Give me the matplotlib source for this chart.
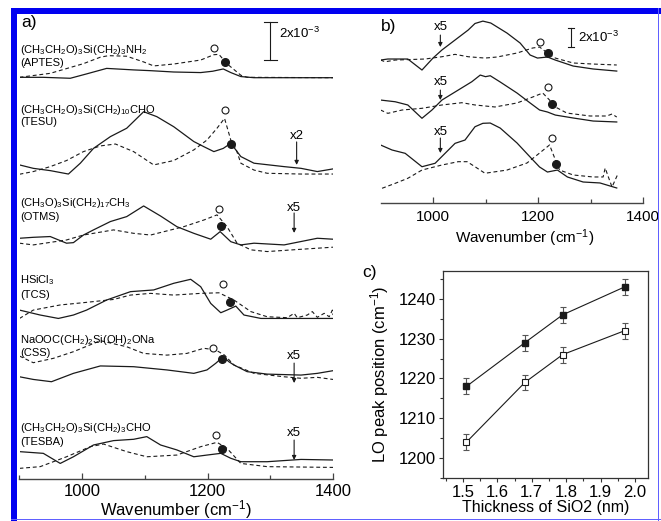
import matplotlib
matplotlib.use('Agg')
import matplotlib.pyplot as plt
from matplotlib.patches import Rectangle
from matplotlib.ticker import FixedLocator, MultipleLocator

plt.rcParams['font.family'] = ['Liberation Sans', 'DejaVu Sans']
plt.rcParams['mathtext.fontset'] = 'custom'
plt.rcParams['mathtext.rm'] = 'Liberation Sans'
plt.rcParams['mathtext.it'] = 'Liberation Sans:italic'
plt.rcParams['mathtext.bf'] = 'Liberation Sans:bold'

# ---------------- Panel a data (wavenumber, absorbance in 1e-3 with offsets) ----------------
aptes_solid_x = [900, 938, 981, 1007, 1039, 1082, 1109, 1146, 1189, 1208, 1225, 1237, 1253, 1274, 1400]
aptes_solid_y = [21.14, 21.14, 21.09, 21.32, 21.61, 21.53, 21.49, 21.42, 21.39, 21.46, 21.58, 21.39, 21.18, 21.12, 21.12]
aptes_dash_x = [900, 949, 1002, 1029, 1042, 1071, 1098, 1114, 1146, 1189, 1210, 1218, 1231, 1253, 1263, 1400]
aptes_dash_y = [21.14, 21.35, 21.86, 22.20, 22.28, 22.25, 21.95, 21.74, 21.84, 22.05, 22.33, 22.35, 21.85, 21.25, 21.14, 21.12]
aptes_open = (1210, 22.67)
aptes_fill = (1228, 21.95)

tesu_solid_x = [900, 922, 949, 978, 997, 1018, 1045, 1071, 1098, 1119, 1146, 1178, 1194, 1210, 1225, 1237, 1253, 1274, 1322, 1349, 1375, 1400]
tesu_solid_y = [16.53, 16.35, 16.23, 16.05, 16.62, 17.40, 18.02, 18.46, 19.33, 19.07, 18.54, 17.76, 17.49, 17.23, 17.40, 17.67, 16.97, 16.62, 16.44, 16.35, 16.18, 16.32]
tesu_dash_x = [900, 922, 949, 975, 1002, 1029, 1053, 1082, 1114, 1146, 1178, 1199, 1215, 1227, 1237, 1245, 1253, 1274, 1295, 1349, 1400]
tesu_dash_y = [16.04, 16.18, 16.44, 16.76, 17.23, 17.53, 17.63, 17.23, 16.53, 16.76, 17.32, 17.84, 18.46, 18.98, 17.84, 17.40, 16.62, 16.26, 16.09, 16.05, 16.05]
tesu_open = (1228, 19.42)
tesu_fill = (1238, 17.63)

otms_solid_x = [900, 922, 949, 975, 986, 1002, 1018, 1045, 1071, 1098, 1125, 1151, 1178, 1205, 1220, 1237, 1253, 1274, 1322, 1375, 1400]
otms_solid_y = [12.67, 12.72, 12.76, 12.41, 12.44, 12.84, 13.11, 13.55, 13.81, 14.37, 13.84, 13.28, 12.93, 12.62, 13.02, 12.49, 12.32, 12.41, 12.32, 12.67, 12.62]
otms_dash_x = [900, 922, 975, 1002, 1050, 1082, 1109, 1162, 1194, 1215, 1231, 1247, 1269, 1295, 1349, 1400]
otms_dash_y = [12.41, 12.32, 12.58, 12.84, 13.11, 12.93, 12.84, 13.28, 13.63, 13.90, 13.28, 12.41, 12.06, 11.97, 12.09, 12.20]
otms_open = (1218, 14.19)
otms_fill = (1222, 13.32)

tcs_solid_x = [900, 933, 962, 986, 1007, 1039, 1077, 1114, 1146, 1173, 1189, 1205, 1221, 1231, 1245, 1258, 1285, 1400]
tcs_solid_y = [8.89, 8.63, 8.45, 8.63, 8.89, 9.42, 9.86, 9.95, 10.30, 10.51, 10.12, 9.24, 8.75, 8.89, 9.10, 8.63, 8.45, 8.45]
tcs_dash_x = [900, 922, 965, 1002, 1050, 1077, 1109, 1146, 1189, 1218, 1242, 1269, 1295, 1327, 1338, 1343, 1359, 1367, 1375, 1386, 1394, 1399, 1400]
tcs_dash_y = [8.45, 8.89, 9.16, 9.28, 9.45, 9.68, 9.77, 9.68, 9.77, 9.80, 9.42, 8.81, 8.54, 8.49, 8.72, 8.49, 8.63, 8.81, 8.51, 8.72, 8.54, 8.89, 8.63]
tcs_open = (1225, 10.24)
tcs_fill = (1236, 9.33)

css_solid_x = [900, 922, 951, 986, 1029, 1082, 1135, 1178, 1199, 1213, 1225, 1234, 1242, 1263, 1295, 1349, 1375, 1400]
css_solid_y = [5.38, 5.24, 5.12, 5.56, 5.95, 5.91, 5.74, 5.56, 5.74, 6.09, 6.44, 6.17, 6.00, 5.65, 5.52, 5.47, 5.56, 5.70]
css_dash_x = [900, 922, 954, 986, 1029, 1071, 1098, 1135, 1167, 1194, 1213, 1227, 1242, 1274, 1322, 1349, 1375, 1400]
css_dash_y = [6.47, 6.12, 6.35, 6.70, 7.28, 6.96, 6.61, 6.52, 6.61, 6.88, 6.79, 6.52, 6.00, 5.56, 5.38, 5.30, 5.35, 5.24]
css_open = (1209, 6.91)
css_fill = (1223, 6.31)

tesba_solid_x = [900, 938, 965, 986, 1018, 1050, 1082, 1103, 1125, 1151, 1178, 1199, 1221, 1237, 1253, 1295, 1349, 1400]
tesba_solid_y = [1.44, 1.35, 0.82, 1.17, 1.79, 2.02, 2.09, 2.23, 1.79, 1.53, 1.17, 1.26, 1.35, 1.09, 0.91, 0.91, 1.03, 1.00]
tesba_dash_x = [900, 933, 975, 1013, 1034, 1071, 1103, 1151, 1189, 1215, 1231, 1253, 1295, 1400]
tesba_dash_y = [0.56, 0.65, 1.17, 1.70, 1.84, 1.44, 1.17, 1.26, 1.70, 1.93, 1.61, 0.82, 0.65, 0.61]
tesba_open = (1213, 2.32)
tesba_fill = (1223, 1.58)

a_labels = [("(CH$_3$CH$_2$O)$_3$Si(CH$_2$)$_3$NH$_2$", "(APTES)", 22.58, 21.89),
            ("(CH$_3$CH$_2$O)$_3$Si(CH$_2$)$_{10}$CHO", "(TESU)", 19.42, 18.79),
            ("(CH$_3$O)$_3$Si(CH$_2$)$_{17}$CH$_3$", "(OTMS)", 14.53, 13.79),
            ("HSiCl$_3$", "(TCS)", 10.47, 9.68),
            ("NaOOC(CH$_2$)$_2$Si(OH)$_2$ONa", "(CSS)", 7.32, 6.63),
            ("(CH$_3$CH$_2$O)$_3$Si(CH$_2$)$_3$CHO", "(TESBA)", 2.68, 1.95)]
# multiplier labels: (text, x, text_y, arrow_start, arrow_end)
a_mult = [("x2", 1342, 18.05, 17.74, 16.53),
          ("x5", 1338, 14.26, 14.00, 12.95),
          ("x5", 1338, 6.47, 6.10, 5.05),
          ("x5", 1338, 2.42, 2.05, 1.00)]

# ---------------- Panel b data ----------------
b1_solid_x = [900, 914, 952, 979, 1000, 1017, 1042, 1067, 1080, 1095, 1110, 1141, 1166, 1185, 1199, 1218, 1233, 1267, 1305, 1350]
b1_solid_y = [15.05, 15.16, 15.16, 14.00, 15.26, 16.11, 17.16, 18.21, 18.90, 19.15, 18.95, 17.89, 16.84, 15.58, 15.26, 15.37, 15.05, 14.42, 14.11, 13.89]
b1_dash_x = [900, 909, 928, 985, 1017, 1042, 1067, 1099, 1122, 1160, 1190, 1203, 1218, 1233, 1267, 1305, 1350]
b1_dash_y = [15.05, 14.87, 15.05, 15.16, 15.40, 15.65, 15.40, 15.26, 15.37, 15.79, 16.32, 16.42, 15.79, 15.26, 14.74, 14.63, 14.53]
b1_open = (1204, 16.95)
b1_fill = (1219, 15.79)

b2_solid_x = [900, 928, 952, 979, 998, 1017, 1048, 1074, 1090, 1100, 1109, 1128, 1160, 1185, 1203, 1218, 1233, 1267, 1305, 1350]
b2_solid_y = [10.84, 10.66, 10.32, 8.92, 9.79, 10.84, 11.89, 12.77, 13.47, 13.30, 13.40, 12.74, 11.58, 10.53, 9.79, 9.58, 9.26, 8.95, 8.63, 8.53]
b2_dash_x = [900, 914, 941, 979, 1017, 1055, 1080, 1118, 1160, 1190, 1209, 1222, 1233, 1255, 1299, 1331, 1341, 1350]
b2_dash_y = [9.79, 9.44, 9.79, 9.97, 10.32, 10.56, 10.32, 10.11, 10.53, 11.16, 11.58, 10.84, 10.11, 9.47, 9.16, 9.16, 9.37, 9.05]
b2_open = (1219, 12.21)
b2_fill = (1227, 10.42)

b3_solid_x = [900, 922, 947, 979, 1004, 1023, 1042, 1061, 1080, 1095, 1109, 1128, 1160, 1185, 1203, 1218, 1237, 1256, 1286, 1318, 1350]
b3_solid_y = [6.11, 5.58, 5.23, 3.82, 4.18, 5.23, 6.28, 6.63, 8.03, 8.39, 8.42, 7.89, 6.32, 4.84, 3.79, 3.26, 3.47, 2.74, 2.21, 2.11, 1.58]
b3_dash_x = [903, 928, 952, 979, 1017, 1048, 1065, 1080, 1099, 1141, 1179, 1203, 1222, 1231, 1241, 1267, 1305, 1324, 1328, 1334, 1341, 1347, 1353]
b3_dash_y = [1.55, 2.07, 2.60, 3.47, 4.00, 4.35, 4.35, 3.82, 3.13, 3.47, 4.21, 5.26, 6.11, 4.84, 3.47, 2.95, 2.74, 2.74, 3.68, 2.74, 1.68, 2.42, 3.16]
b3_open = (1227, 6.84)
b3_fill = (1234, 4.11)

b_mult = [("x5", 1014, 18.53, 17.68, 16.42),
          ("x5", 1014, 12.74, 11.89, 10.84),
          ("x5", 1014, 7.47, 6.84, 5.26)]

# ---------------- Panel c data ----------------
thickness = [1.51, 1.68, 1.79, 1.97]
lo_filled = [1218, 1229, 1236, 1243]
lo_open = [1204, 1219, 1226, 1232]
lo_err = [2, 2, 2, 2]

LINE = '#1a1a1a'
W, H = 661, 521
fig = plt.figure(figsize=(W / 100, H / 100), dpi=100)

def spectrum(ax, sx, sy, dx, dy, op, fp):
    ax.plot(sx, sy, color=LINE, lw=0.9, solid_joinstyle='round')
    ax.plot(dx, dy, color=LINE, lw=0.8, dashes=(3.5, 2.5))
    ax.plot([op[0]], [op[1]], marker='o', ms=5, mfc='white', mec=LINE, mew=0.8, zorder=5)
    ax.plot([fp[0]], [fp[1]], marker='o', ms=5.5, mfc=LINE, mec=LINE, zorder=5)

def wn_axis(ax, minors, lsize, pad):
    for s in ['top', 'right', 'left']:
        ax.spines[s].set_visible(False)
    ax.spines['bottom'].set_color('#444444')
    ax.spines['bottom'].set_linewidth(1.0)
    ax.set_yticks([])
    ax.set_xticks([1000, 1200, 1400])
    ax.xaxis.set_minor_locator(FixedLocator(minors))
    ax.tick_params(axis='x', which='major', direction='in', length=4, width=0.9,
                   color='#444444', labelsize=lsize, pad=pad)
    ax.tick_params(axis='x', which='minor', direction='in', length=3, width=0.9, color='#444444')
    ax.set_facecolor('none')

def mult(ax, items, fs):
    for t, x, ty, y0, y1 in items:
        ax.text(x, ty, t, ha='center', va='center', fontsize=fs)
        ax.annotate('', xy=(x, y1), xytext=(x, y0),
                    arrowprops=dict(arrowstyle='-|>', color=LINE, lw=0.8, mutation_scale=6,
                                    shrinkA=0, shrinkB=0))

# ---- panel a ----
axa = fig.add_axes([19.5 / W, 42 / H, 313.5 / W, 464 / H])
axa.set_xlim(900, 1400)
axa.set_ylim(0, 24.42)
wn_axis(axa, [900, 1100, 1300], 12, 3.5)
spectrum(axa, aptes_solid_x, aptes_solid_y, aptes_dash_x, aptes_dash_y, aptes_open, aptes_fill)
spectrum(axa, tesu_solid_x, tesu_solid_y, tesu_dash_x, tesu_dash_y, tesu_open, tesu_fill)
spectrum(axa, otms_solid_x, otms_solid_y, otms_dash_x, otms_dash_y, otms_open, otms_fill)
spectrum(axa, tcs_solid_x, tcs_solid_y, tcs_dash_x, tcs_dash_y, tcs_open, tcs_fill)
spectrum(axa, css_solid_x, css_solid_y, css_dash_x, css_dash_y, css_open, css_fill)
spectrum(axa, tesba_solid_x, tesba_solid_y, tesba_dash_x, tesba_dash_y, tesba_open, tesba_fill)
for f, n, fy, ny in a_labels:
    axa.text(901, fy, f, ha='left', va='center', fontsize=8)
    axa.text(901, ny, n, ha='left', va='center', fontsize=8)
mult(axa, a_mult, 9.5)
axa.text(903, 24.0, 'a)', ha='left', va='center', fontsize=12.5)
# scale bar 2x10^-3
axa.plot([1300, 1300], [22.05, 24.05], color=LINE, lw=0.8)
axa.plot([1290, 1311], [22.05, 22.05], color=LINE, lw=0.8)
axa.plot([1290, 1311], [24.05, 24.05], color=LINE, lw=0.8)
axa.text(1314, 23.47, '2x10$^{-3}$', ha='left', va='center', fontsize=9.5)
axa.set_xlabel('Wavenumber (cm$^{-1}$)', fontsize=12, labelpad=-0.5)

# ---- panel b ----
axb = fig.add_axes([380.5 / W, 318 / H, 262.5 / W, 193 / H])
axb.set_xlim(900, 1400)
axb.set_ylim(0, 20.32)
wn_axis(axb, [1100, 1300], 11, 5)
spectrum(axb, b1_solid_x, b1_solid_y, b1_dash_x, b1_dash_y, b1_open, b1_fill)
spectrum(axb, b2_solid_x, b2_solid_y, b2_dash_x, b2_dash_y, b2_open, b2_fill)
spectrum(axb, b3_solid_x, b3_solid_y, b3_dash_x, b3_dash_y, b3_open, b3_fill)
mult(axb, b_mult, 9.5)
axb.text(900, 18.6, 'b)', ha='left', va='center', fontsize=12.5)
axb.plot([1263, 1263], [16.42, 18.42], color=LINE, lw=0.8)
axb.plot([1257, 1269], [16.42, 16.42], color=LINE, lw=0.8)
axb.plot([1257, 1269], [18.42, 18.42], color=LINE, lw=0.8)
axb.text(1276, 17.47, '2x10$^{-3}$', ha='left', va='center', fontsize=9.5)
axb.set_xlabel('Wavenumber (cm$^{-1}$)', fontsize=11)
axb.xaxis.set_label_coords(0.55, -0.125)

# ---- panel c ----
axc = fig.add_axes([443 / W, 43 / H, 205 / W, 207 / H])
axc.set_xlim(1.442, 2.038)
axc.set_ylim(1195, 1247)
axc.errorbar(thickness, lo_filled, yerr=lo_err, color=LINE, lw=0.8, marker='s', ms=4.5,
             mfc=LINE, mec=LINE, capsize=2.5, elinewidth=0.8, ecolor='#555555', capthick=0.8)
axc.errorbar(thickness, lo_open, yerr=lo_err, color=LINE, lw=0.8, marker='s', ms=4.5,
             mfc='white', mec=LINE, mew=0.8, capsize=2.5, elinewidth=0.8, ecolor='#555555', capthick=0.8)
axc.set_xticks([1.5, 1.6, 1.7, 1.8, 1.9, 2.0])
axc.set_xticklabels(['1.5', '1.6', '1.7', '1.8', '1.9', '2.0'])
axc.xaxis.set_minor_locator(MultipleLocator(0.05))
axc.set_yticks([1200, 1210, 1220, 1230, 1240])
axc.yaxis.set_minor_locator(MultipleLocator(5))
for s in axc.spines.values():
    s.set_color('#333333')
    s.set_linewidth(0.9)
axc.tick_params(which='major', direction='out', length=3, width=0.8, color='#333333', labelsize=12, pad=2)
axc.tick_params(which='minor', direction='out', length=2, width=0.8, color='#333333')
axc.set_xlabel('Thickness of SiO2 (nm)', fontsize=11.5, labelpad=0)
axc.set_ylabel('LO peak position (cm$^{-1}$)', fontsize=12)
axc.yaxis.set_label_coords(-0.255, 0.5)
fig.text(362 / W, 1 - 272 / H, 'c)', ha='left', va='center', fontsize=12.5)

# ---- blue frame ----
BLUE = '#0000f0'
fig.add_artist(Rectangle((11 / W, 1 - 14 / H), 1 - 11 / W, 6 / H, transform=fig.transFigure,
                         facecolor=BLUE, edgecolor='none'))
fig.add_artist(Rectangle((11 / W, 0), 5.5 / W, 1 - 8 / H, transform=fig.transFigure,
                         facecolor=BLUE, edgecolor='none'))
fig.add_artist(Rectangle((658 / W, 0), 1.2 / W, 1 - 8 / H, transform=fig.transFigure,
                         facecolor='#6060ff', edgecolor='none'))
fig.add_artist(Rectangle((11 / W, 1 / H), 1 - 11 / W, 1.2 / H, transform=fig.transFigure,
                         facecolor='#6060ff', edgecolor='none'))

fig.savefig('out.png', dpi=100)
